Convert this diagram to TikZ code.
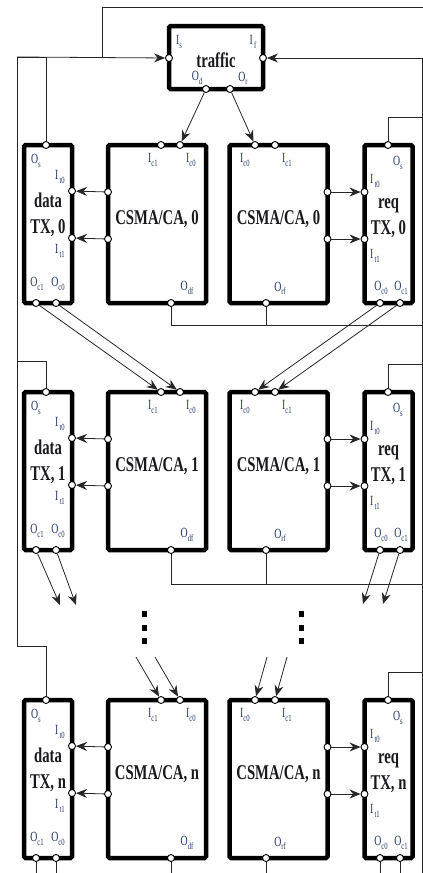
\documentclass[tikz,border=0pt]{standalone}
\usepackage{fontspec}
\setmainfont{Liberation Serif}
\usepackage{graphicx}
\usetikzlibrary{arrows.meta, calc}

\definecolor{portblue}{RGB}{35,55,105}
\definecolor{ink}{RGB}{25,25,30}
\newcommand{\sq}[1]{\scalebox{0.7}[1]{#1}}
\newcommand{\pl}[2]{\sq{#1\raisebox{-0.5ex}{\fontsize{9.5}{9.5}\selectfont #2}}}

\begin{document}
\begin{tikzpicture}[
    x=1pt, y=-1pt,
    box/.style={rectangle, draw=black, line width=4.5pt, rounded corners=1.5pt, inner sep=0pt, outer sep=0pt, fill=white},
    unit/.style={box, minimum width=48pt, minimum height=158pt},
    csma/.style={box, minimum width=98pt, minimum height=158pt},
    port/.style={circle, draw=black, fill=white, line width=0.9pt, minimum size=7pt, inner sep=0pt},
    lbl/.style={font=\fontsize{21}{26}\selectfont\bfseries, text=ink, align=center, inner sep=0pt},
    plbl/.style={font=\fontsize{14}{14}\selectfont, text=portblue, inner sep=0pt},
    wire/.style={line width=0.8pt, black!85},
    arr/.style={wire, -{Stealth[length=11pt, width=9pt]}}
]
\useasboundingbox (0,0) rectangle (423,873);

% traffic source
\node[box, minimum width=94pt, minimum height=63pt] (t) at (216,57.5) {};
\node[lbl] (t-txt) at (216,60) {\sq{traffic}};
\node[port] (t-is) at (169,58) {};
\node[port] (t-if) at (263,58) {};
\node[port] (t-od) at (206,89) {};
\node[port] (t-or) at (230,89) {};
\node[plbl] (t-lis) at (179,42) {\pl{I}{s}};
\node[plbl] (t-lif) at (253,42) {\pl{I}{\,f}};
\node[plbl] (t-lod) at (197,78) {\pl{O}{d}};
\node[plbl] (t-lor) at (243,78) {\pl{O}{r}};

% buses
\coordinate (lbT) at (17,57);
\coordinate (lbB) at (17,646);
\coordinate (rbT) at (422,58);
\coordinate (rbB) at (422,873);
\coordinate (ext) at (423,7);
\coordinate (j) at (102,57);
\draw[wire] (lbT) -- (lbB);
\draw[wire] (rbT) -- (rbB);
\draw[arr] (lbT) -- (t-is);
\draw[arr] (rbT) -- (t-if);
\draw[wire] (ext) -| (j);

% one row per station
\foreach \rw/\ty/\by/\ly in {0/145/325/57, 1/392/584/361, n/700/873/646}{
  \node[unit] (d\rw) at (48,{\ty+79}) {};
  \node[csma] (c\rw) at (157,{\ty+79}) {};
  \node[csma] (e\rw) at (278.5,{\ty+79}) {};
  \node[unit] (q\rw) at (388.5,{\ty+79}) {};

  \node[lbl] (d\rw-txt) at (48,{\ty+70}) {\sq{data}\\\sq{TX, \rw}};
  \node[lbl] (c\rw-txt) at (157,{\ty+74}) {\sq{CSMA/CA, \rw}};
  \node[lbl] (e\rw-txt) at (278.5,{\ty+74}) {\sq{CSMA/CA, \rw}};
  \node[lbl] (q\rw-txt) at (388.5,{\ty+73}) {\sq{req}\\\sq{TX, \rw}};

  % ports
  \node[port] (d\rw-os) at (46,\ty) {};
  \node[port] (d\rw-t0) at (72,{\ty+46}) {};
  \node[port] (d\rw-t1) at (72,{\ty+93}) {};
  \node[port] (d\rw-c1) at (36,{\ty+158}) {};
  \node[port] (d\rw-c0) at (56,{\ty+158}) {};
  \node[port] (c\rw-c1) at (161,\ty) {};
  \node[port] (c\rw-c0) at (180,\ty) {};
  \node[port] (c\rw-t0) at (108,{\ty+47}) {};
  \node[port] (c\rw-t1) at (108,{\ty+94}) {};
  \node[port] (c\rw-df) at (171,{\ty+158}) {};
  \node[port] (e\rw-c0) at (255,\ty) {};
  \node[port] (e\rw-c1) at (275,\ty) {};
  \node[port] (e\rw-t0) at (327.5,{\ty+47}) {};
  \node[port] (e\rw-t1) at (327.5,{\ty+94}) {};
  \node[port] (e\rw-rf) at (266,{\ty+158}) {};
  \node[port] (q\rw-os) at (388,\ty) {};
  \node[port] (q\rw-t0) at (364.5,{\ty+47}) {};
  \node[port] (q\rw-t1) at (364.5,{\ty+94}) {};
  \node[port] (q\rw-c0) at (380,{\ty+158}) {};
  \node[port] (q\rw-c1) at (400,{\ty+158}) {};

  % port names
  \node[plbl] (d\rw-los) at (36,{\ty+16}) {\pl{O}{s}};
  \node[plbl] (d\rw-lt0) at (60,{\ty+32}) {\pl{I}{\,t0}};
  \node[plbl] (d\rw-lt1) at (60,{\ty+106}) {\pl{I}{\,t1}};
  \node[plbl] (d\rw-lc1) at (37,{\ty+139}) {\pl{O}{c1}};
  \node[plbl] (d\rw-lc0) at (58,{\ty+139}) {\pl{O}{c0}};
  \node[plbl] (c\rw-lc1) at (153,{\ty+15}) {\pl{I}{c1}};
  \node[plbl] (c\rw-lc0) at (191,{\ty+15}) {\pl{I}{c0}};
  \node[plbl] (c\rw-ldf) at (187,{\ty+143}) {\pl{O}{df}};
  \node[plbl] (e\rw-lc0) at (245,{\ty+15}) {\pl{I}{c0}};
  \node[plbl] (e\rw-lc1) at (287,{\ty+15}) {\pl{I}{c1}};
  \node[plbl] (e\rw-lrf) at (280,{\ty+143}) {\pl{O}{rf}};
  \node[plbl] (q\rw-los) at (398,{\ty+18}) {\pl{O}{s}};
  \node[plbl] (q\rw-lt0) at (375,{\ty+36}) {\pl{I}{\,t0}};
  \node[plbl] (q\rw-lt1) at (375,{\ty+111}) {\pl{I}{\,t1}};
  \node[plbl] (q\rw-lc0) at (381,{\ty+143}) {\pl{O}{c0}};
  \node[plbl] (q\rw-lc1) at (401,{\ty+143}) {\pl{O}{c1}};

  % links inside the row
  \draw[arr] (c\rw-t0) -- (d\rw-t0);
  \draw[arr] (c\rw-t1) -- (d\rw-t1);
  \draw[arr] (e\rw-t0) -- (q\rw-t0);
  \draw[arr] (e\rw-t1) -- (q\rw-t1);

  % feedback and taps
  \coordinate (h\rw) at (171,\by);
  \draw[wire] (c\rw-df) -- (h\rw);
  \draw[wire] (e\rw-rf) -- (e\rw-rf |- h\rw);
  \coordinate (rt\rw) at (422,{\ty-28});
  \draw[wire] (q\rw-os) |- (rt\rw);
  \coordinate (lt\rw) at (17,\ly);
  \draw[wire] (d\rw-os) |- (lt\rw);
}

\draw[wire] (h0) -- (h0 -| rbT);
\draw[wire] (h1) -- (h1 -| rbT);

% traffic to first row
\draw[arr] (t-od) -- (c0-c0);
\draw[arr] (t-or) -- (e0-c0);

% row 0 to row 1
\draw[arr] (d0-c1) -- (c1-c1);
\draw[arr] (d0-c0) -- (c1-c0);
\draw[arr] (q0-c0) -- (e1-c0);
\draw[arr] (q0-c1) -- (e1-c1);

% row 1 to the gap
\coordinate (a1) at (60,605);
\coordinate (a2) at (76,605);
\coordinate (a3) at (363,604);
\coordinate (a4) at (383,604);
\draw[arr] (d1-c1) -- (a1);
\draw[arr] (d1-c0) -- (a2);
\draw[arr] (q1-c0) -- (a3);
\draw[arr] (q1-c1) -- (a4);

% the gap to row n
\coordinate (b1) at (136,657);
\coordinate (b2) at (155,657);
\coordinate (b3) at (267,657);
\coordinate (b4) at (287,657);
\draw[arr] (b1) -- (cn-c1);
\draw[arr] (b2) -- (cn-c0);
\draw[arr] (b3) -- (en-c0);
\draw[arr] (b4) -- (en-c1);

% vertical dots
\foreach \dx in {144,301}
  \foreach \dy in {614,628,641}
    \fill ({\dx-2.5},{\dy-3}) rectangle ++(5,6);

% leaving at the bottom
\foreach \p in {dn-c1,dn-c0,qn-c0,qn-c1}
  \draw[wire] (\p) -- (\p |- rbB);
\end{tikzpicture}
\end{document}
